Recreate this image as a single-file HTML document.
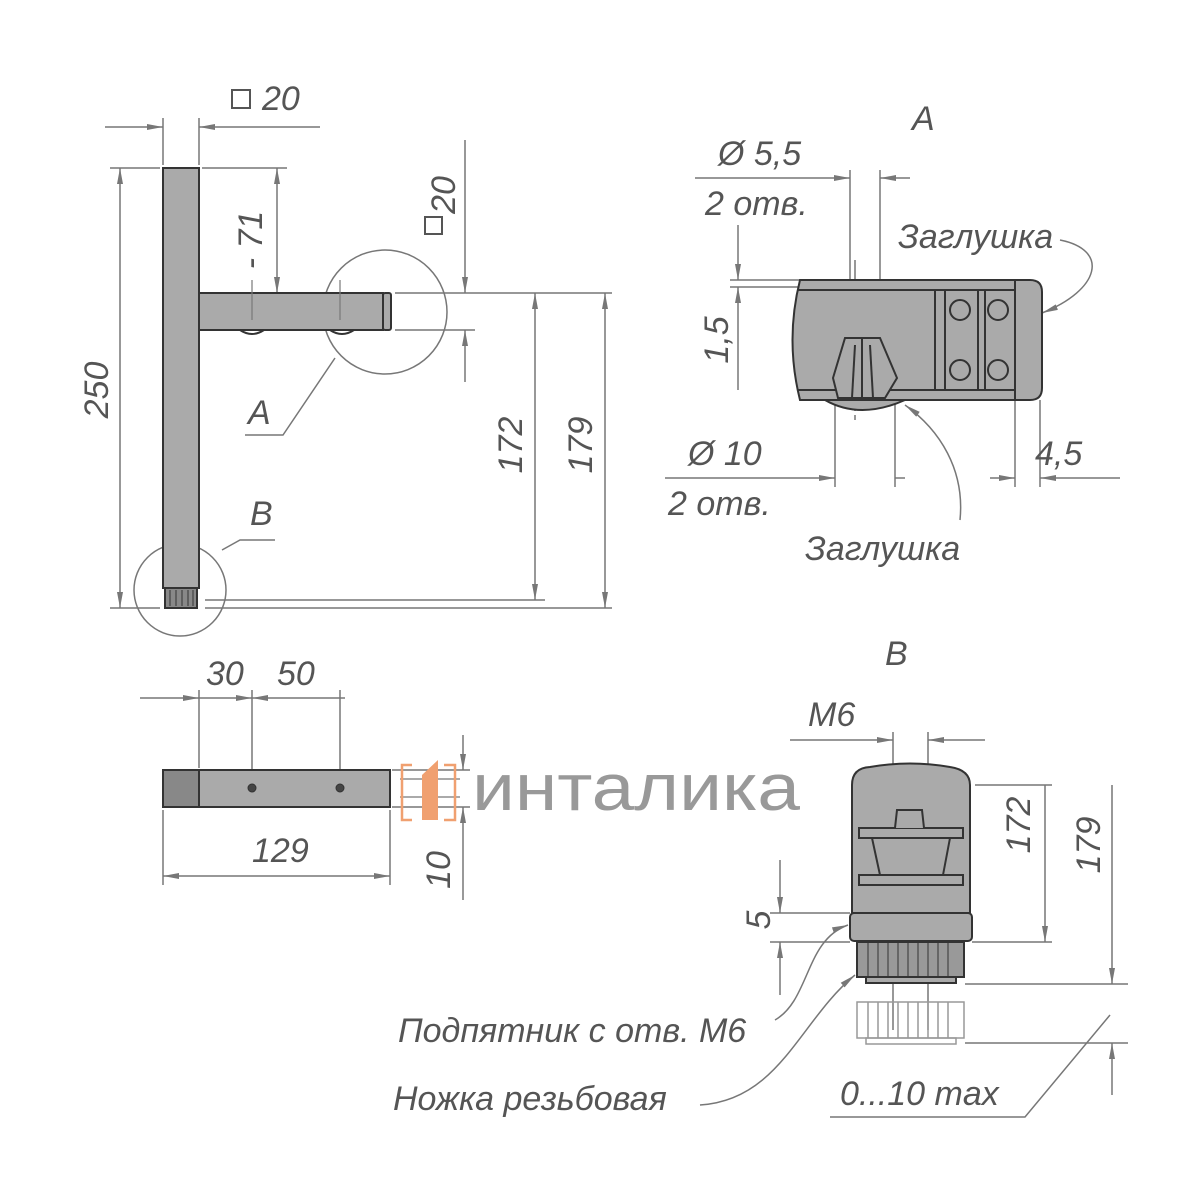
<!DOCTYPE html>
<html><head><meta charset="utf-8"><style>
html,body{margin:0;padding:0;background:#fff}
svg{display:block}
text{font-family:"Liberation Sans","DejaVu Sans",sans-serif;font-style:italic;fill:#555;font-size:34px}
</style></head><body>
<svg width="1200" height="1200" viewBox="0 0 1200 1200" xmlns="http://www.w3.org/2000/svg">
<defs>
<marker id="a" markerWidth="16" markerHeight="8" refX="16" refY="4" orient="auto-start-reverse" markerUnits="userSpaceOnUse"><path d="M0,1 L16,4 L0,7 z" fill="#777"/></marker>
</defs>

<g stroke="#777" stroke-width="1.5" fill="none">
<line x1="163" y1="118" x2="163" y2="165"/><line x1="199" y1="118" x2="199" y2="165"/>
<line x1="105" y1="127" x2="163" y2="127" marker-end="url(#a)"/><line x1="320" y1="127" x2="199" y2="127" marker-end="url(#a)"/>
<line x1="110" y1="168" x2="160" y2="168"/><line x1="110" y1="608" x2="160" y2="608"/>
<line x1="120" y1="168" x2="120" y2="608" marker-start="url(#a)" marker-end="url(#a)"/>
<line x1="202" y1="168" x2="287" y2="168"/>
<line x1="277" y1="168" x2="277" y2="293" marker-start="url(#a)" marker-end="url(#a)"/>
<line x1="395" y1="293" x2="612" y2="293"/><line x1="395" y1="330" x2="475" y2="330"/>
<line x1="465" y1="140" x2="465" y2="293" marker-end="url(#a)"/><line x1="465" y1="382" x2="465" y2="330" marker-end="url(#a)"/>
<line x1="205" y1="600" x2="545" y2="600"/><line x1="205" y1="608" x2="612" y2="608"/>
<line x1="535" y1="293" x2="535" y2="600" marker-start="url(#a)" marker-end="url(#a)"/>
<line x1="605" y1="293" x2="605" y2="608" marker-start="url(#a)" marker-end="url(#a)"/>
<circle cx="385" cy="312" r="62"/>
<circle cx="180" cy="590" r="46"/>
<polyline points="335,358 283,435 245,435"/>
<polyline points="222,550 240,540 275,540"/>
<line x1="199" y1="690" x2="199" y2="768"/><line x1="252" y1="690" x2="252" y2="785"/><line x1="340" y1="690" x2="340" y2="785"/>
<line x1="140" y1="698" x2="199" y2="698" marker-end="url(#a)"/>
<line x1="199" y1="698" x2="252" y2="698" marker-end="url(#a)"/>
<line x1="252" y1="698" x2="340" y2="698" marker-start="url(#a)"/><line x1="340" y1="698" x2="345" y2="698"/>
<line x1="163" y1="810" x2="163" y2="885"/><line x1="390" y1="810" x2="390" y2="885"/>
<line x1="163" y1="876" x2="390" y2="876" marker-start="url(#a)" marker-end="url(#a)"/>
<line x1="392" y1="770" x2="470" y2="770"/><line x1="392" y1="807" x2="470" y2="807"/>
<line x1="463" y1="735" x2="463" y2="770" marker-end="url(#a)"/><line x1="463" y1="900" x2="463" y2="807" marker-end="url(#a)"/>
<line x1="850" y1="170" x2="850" y2="285"/><line x1="880" y1="170" x2="880" y2="285"/>
<line x1="695" y1="178" x2="850" y2="178" marker-end="url(#a)"/><line x1="910" y1="178" x2="880" y2="178" marker-end="url(#a)"/>
<line x1="730" y1="280" x2="800" y2="280"/><line x1="730" y1="287" x2="800" y2="287"/>
<line x1="738" y1="225" x2="738" y2="280" marker-end="url(#a)"/><line x1="738" y1="390" x2="738" y2="287" marker-end="url(#a)"/>
<line x1="835" y1="400" x2="835" y2="487"/><line x1="895" y1="400" x2="895" y2="487"/>
<line x1="665" y1="478" x2="835" y2="478" marker-end="url(#a)"/><line x1="905" y1="478" x2="895" y2="478"/>
<line x1="1015" y1="400" x2="1015" y2="487"/><line x1="1040" y1="400" x2="1040" y2="487"/>
<line x1="990" y1="478" x2="1015" y2="478" marker-end="url(#a)"/><line x1="1120" y1="478" x2="1040" y2="478" marker-end="url(#a)"/>
<path d="M1060 240 C1110 250 1100 290 1042 313" marker-end="url(#a)"/>
<path d="M960 520 C965 470 940 430 905 405" marker-end="url(#a)"/>
<line x1="855" y1="260" x2="855" y2="420" stroke-dasharray="20,4,3,4"/>
<line x1="893" y1="732" x2="893" y2="1030"/><line x1="928" y1="732" x2="928" y2="1030"/>
<line x1="790" y1="740" x2="893" y2="740" marker-end="url(#a)"/><line x1="985" y1="740" x2="928" y2="740" marker-end="url(#a)"/>
<line x1="975" y1="785" x2="1052" y2="785"/><line x1="972" y1="942" x2="1052" y2="942"/>
<line x1="1045" y1="785" x2="1045" y2="942" marker-end="url(#a)"/>
<line x1="770" y1="913" x2="850" y2="913"/><line x1="770" y1="942" x2="850" y2="942"/>
<line x1="780" y1="860" x2="780" y2="913" marker-end="url(#a)"/><line x1="780" y1="995" x2="780" y2="942" marker-end="url(#a)"/>
<line x1="965" y1="984" x2="1128" y2="984"/><line x1="965" y1="1043" x2="1128" y2="1043"/>
<line x1="1112" y1="785" x2="1112" y2="984" marker-end="url(#a)"/><line x1="1112" y1="1095" x2="1112" y2="1043" marker-end="url(#a)"/>
<polyline points="830,1117 1025,1117 1110,1015"/>
<path d="M775 1020 C810 1000 805 940 848 925" marker-end="url(#a)"/>
<path d="M700 1105 C780 1100 800 1020 855 975" marker-end="url(#a)"/>
</g>

<g stroke="#333" stroke-width="2" fill="#aaa">
<rect x="163" y="168" width="36" height="420"/>
<rect x="199" y="293" width="184" height="37"/>
<rect x="383" y="293" width="8" height="37" rx="2"/>
<rect x="165" y="588" width="32" height="20" fill="#888"/>
<rect x="163" y="770" width="227" height="37"/>
<rect x="163" y="770" width="36" height="37" fill="#888"/>
</g>
<g stroke="#333" stroke-width="1" fill="none">
<line x1="170" y1="590" x2="170" y2="606"/><line x1="176" y1="590" x2="176" y2="606"/><line x1="182" y1="590" x2="182" y2="606"/><line x1="188" y1="590" x2="188" y2="606"/><line x1="193" y1="590" x2="193" y2="606"/>
<circle cx="252" cy="788" r="4" fill="#444"/><circle cx="340" cy="788" r="4" fill="#444"/>
<path d="M240 330 q12 8 24 0 M330 330 q12 8 24 0" stroke-width="2"/>
</g>
<g stroke="#777" stroke-width="1.2"><line x1="252" y1="280" x2="252" y2="320"/><line x1="340" y1="280" x2="340" y2="320"/><line x1="400" y1="779" x2="460" y2="779"/><line x1="400" y1="797" x2="460" y2="797"/></g>

<g fill="none" stroke="#f0a070" stroke-width="2.5"><polyline points="412,765 402,765 402,820 412,820"/><polyline points="444,765 455,765 455,820 444,820"/></g>
<polygon points="422,775 438,760 438,820 422,820" fill="#f0a070"/>
<text x="472" y="810" textLength="328" lengthAdjust="spacingAndGlyphs" style="font-style:normal;font-size:66px;fill:#999">инталика</text>

<g stroke="#333" stroke-width="2" fill="#aaa">
<path d="M800 280 L1015 280 L1015 400 L800 400 Q785 340 800 280 z"/>
<path d="M825 400 Q860 420 905 400 z"/>
<path d="M1015 280 L1030 280 Q1042 280 1042 292 L1042 388 Q1042 400 1030 400 L1015 400 z"/>
<line x1="797" y1="290" x2="1015" y2="290"/><line x1="797" y1="390" x2="1015" y2="390"/>
<line x1="935" y1="290" x2="935" y2="390"/><line x1="945" y1="290" x2="945" y2="390"/><line x1="978" y1="290" x2="978" y2="390"/><line x1="985" y1="290" x2="985" y2="390"/>
<circle cx="960" cy="310" r="10"/><circle cx="960" cy="370" r="10"/><circle cx="998" cy="310" r="10"/><circle cx="998" cy="370" r="10"/>
<path d="M845 338 L880 338 L897 378 L885 398 L838 398 L833 378 z"/>
<line x1="862" y1="338" x2="862" y2="398"/><line x1="855" y1="345" x2="852" y2="398"/><line x1="870" y1="345" x2="873" y2="398"/>
</g>

<g stroke="#333" stroke-width="2" fill="#aaa">
<path d="M852 785 Q852 768 870 767 Q910 760 950 767 Q970 770 970 785 L970 913 L852 913 z"/>
<rect x="859" y="828" width="104" height="10"/>
<rect x="859" y="875" width="104" height="10"/>
<path d="M895 828 L897 810 L922 810 L924 828"/>
<path d="M872 838 L880 875 M950 838 L943 875" fill="none"/>
<rect x="850" y="913" width="122" height="28" rx="4"/>
<rect x="857" y="942" width="107" height="35" fill="#999"/>
<rect x="866" y="977" width="90" height="6"/>
</g>
<g stroke="#333" stroke-width="1"><line x1="868" y1="942" x2="868" y2="977"/><line x1="878" y1="942" x2="878" y2="977"/><line x1="888" y1="942" x2="888" y2="977"/><line x1="898" y1="942" x2="898" y2="977"/><line x1="908" y1="942" x2="908" y2="977"/><line x1="918" y1="942" x2="918" y2="977"/><line x1="928" y1="942" x2="928" y2="977"/><line x1="938" y1="942" x2="938" y2="977"/><line x1="948" y1="942" x2="948" y2="977"/></g>
<g stroke="#999" stroke-width="1.5" fill="none">
<rect x="857" y="1002" width="107" height="36"/><rect x="866" y="1038" width="90" height="6"/>
<path d="M868 1002v36M878 1002v36M888 1002v36M898 1002v36M908 1002v36M918 1002v36M928 1002v36M938 1002v36M948 1002v36"/>
</g>

<rect x="232" y="90" width="18" height="18" fill="none" stroke="#555" stroke-width="2"/>
<text x="262" y="110">20</text>
<text transform="translate(108,390) rotate(-90)" text-anchor="middle">250</text>
<text transform="translate(262,240) rotate(-90)" text-anchor="middle">- 71</text>
<text transform="translate(455,195) rotate(-90)" text-anchor="middle">20</text>
<rect x="425" y="217" width="17" height="17" fill="none" stroke="#555" stroke-width="2"/>
<text transform="translate(522,445) rotate(-90)" text-anchor="middle">172</text>
<text transform="translate(592,445) rotate(-90)" text-anchor="middle">179</text>
<text x="248" y="424">A</text>
<text x="250" y="525">B</text>
<text x="206" y="685">30</text><text x="277" y="685">50</text>
<text x="252" y="862">129</text>
<text transform="translate(450,870) rotate(-90)" text-anchor="middle">10</text>
<text x="912" y="130">A</text>
<text x="718" y="165">Ø 5,5</text>
<text x="705" y="215">2 отв.</text>
<text x="898" y="248">Заглушка</text>
<text transform="translate(728,340) rotate(-90)" text-anchor="middle">1,5</text>
<text x="688" y="465">Ø 10</text>
<text x="668" y="515">2 отв.</text>
<text x="1035" y="465">4,5</text>
<text x="805" y="560">Заглушка</text>
<text x="885" y="665">B</text>
<text x="808" y="726">M6</text>
<text transform="translate(1030,825) rotate(-90)" text-anchor="middle">172</text>
<text transform="translate(1100,845) rotate(-90)" text-anchor="middle">179</text>
<text transform="translate(770,920) rotate(-90)" text-anchor="middle">5</text>
<text x="398" y="1042">Подпятник с отв. M6</text>
<text x="393" y="1110">Ножка резьбовая</text>
<text x="840" y="1105">0...10 max</text>
</svg>
</body></html>
